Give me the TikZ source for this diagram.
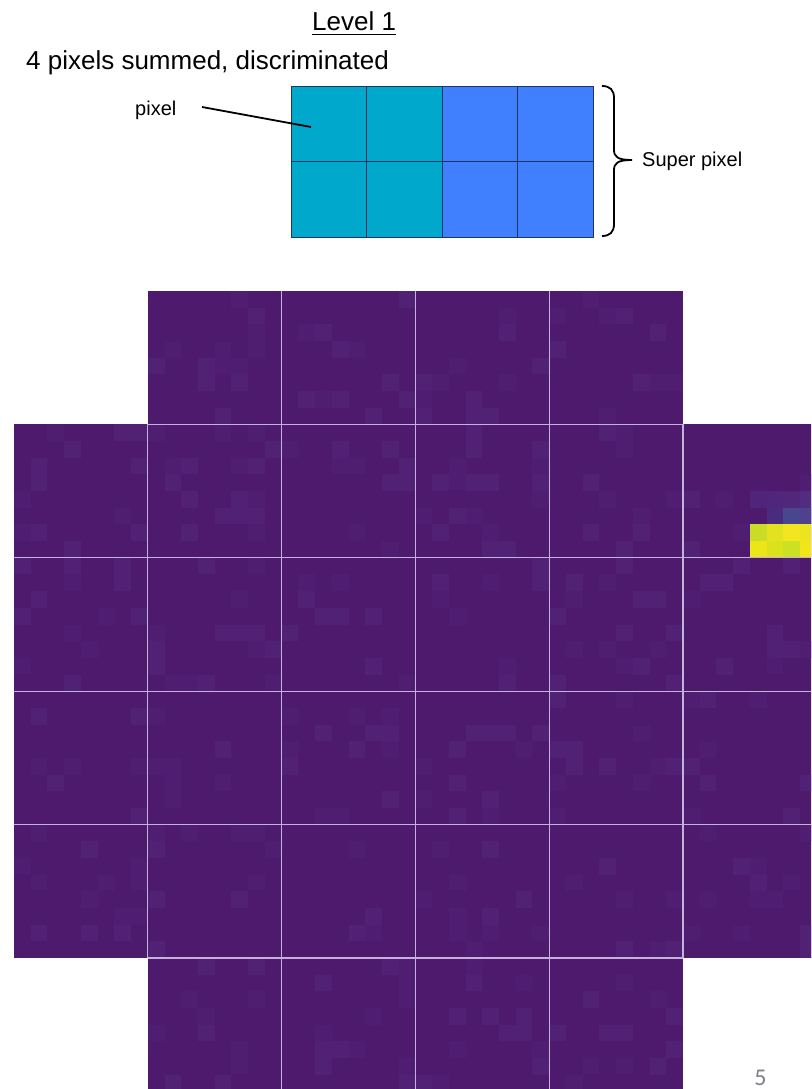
\documentclass[tikz,border=0pt]{standalone}
\usepackage{fontspec}
\setmainfont{Liberation Sans}
\newfontfamily\carlitofont{Carlito}
\definecolor{vbase}{RGB}{77,26,110}
\definecolor{vlight}{RGB}{81,33,118}
\definecolor{vlight2}{RGB}{79,29,114}
\definecolor{gridc}{RGB}{195,178,218}
\definecolor{pixteal}{RGB}{0,168,204}
\definecolor{pixblue}{RGB}{64,128,255}
\definecolor{pixedge}{RGB}{30,52,100}
\definecolor{pagenum}{RGB}{128,128,136}
\tikzset{
  lbl/.style={inner sep=0pt, font=\fontsize{20}{24}\selectfont},
  bigtxt/.style={inner sep=0pt, font=\fontsize{26}{31}\selectfont},
  cellbox/.style={draw=pixedge, line width=0.9pt},
  tilegrid/.style={draw=gridc, line width=1.1pt},
}
\begin{document}
\begin{tikzpicture}[x=1pt,y=-1pt]
\useasboundingbox (0,0) rectangle (811,1089);
\fill[white] (0,0) rectangle (811,1089);
\begin{scope}
\clip (0,0) rectangle (811,1089);
\pgfmathsetseed{11}
\foreach \tx/\ty in {1/0,2/0,3/0,4/0,
  0/1,1/1,2/1,3/1,4/1,5/1,
  0/2,1/2,2/2,3/2,4/2,5/2,
  0/3,1/3,2/3,3/3,4/3,5/3,
  0/4,1/4,2/4,3/4,4/4,5/4,
  1/5,2/5,3/5,4/5}{
  \pgfmathsetmacro\ox{14+133.8*\tx}
  \pgfmathsetmacro\oy{291+133.4*\ty}
  \fill[vbase] (\ox,\oy) rectangle ++(133.8,133.4);
  \foreach \i in {0,...,7}{
    \foreach \j in {0,...,7}{
      \pgfmathsetmacro\rr{rnd}
      \ifdim\rr pt<0.09pt
        \fill[vlight] (\ox+\i*16.725,\oy+\j*16.675) rectangle ++(16.725,16.675);
      \else\ifdim\rr pt<0.18pt
        \fill[vlight2] (\ox+\i*16.725,\oy+\j*16.675) rectangle ++(16.725,16.675);
      \fi\fi
    }
  }
}
% bright pixels in tile (5,1)
\foreach \i/\j/\cr/\cg/\cb in {
  4/4/80/36/122, 5/4/80/38/124, 6/4/79/40/124, 7/4/82/44/128,
  5/5/74/44/126, 6/5/72/70/142, 7/5/78/66/142,
  4/6/200/220/40, 5/6/226/226/30, 6/6/242/230/30, 7/6/236/228/30,
  4/7/236/230/25, 5/7/220/225/30, 6/7/205/225/35, 7/7/242/230/25}{
  \definecolor{hot}{RGB}{\cr,\cg,\cb}
  \fill[hot] (683+\i*16.725,424.4+\j*16.675) rectangle ++(16.725,16.675);
}
% internal tile boundaries
\draw[tilegrid] (147.8,424.4) -- (683,424.4);
\foreach \yy in {557.8,691.2,824.6}{ \draw[tilegrid] (14,\yy) -- (811,\yy); }
\draw[tilegrid] (147.8,958) -- (683,958);
\draw[tilegrid] (147.8,424.4) -- (147.8,958);
\foreach \xx in {281.6,415.4,549.2}{ \draw[tilegrid] (\xx,291) -- (\xx,1089); }
\draw[tilegrid] (683,424.4) -- (683,958);
\end{scope}
\node[anchor=base, inner sep=0pt, text=pagenum, font=\carlitofont\fontsize{24}{29}\selectfont] (pnum) at (760.5,1085) {5};
% top explanatory part
\node[bigtxt, anchor=base west] (lvl) at (312,31) {Level 1};
\draw[line width=1.8pt] ([yshift=-3.6pt]lvl.base west) -- ([yshift=-3.6pt]lvl.base east);
\node[bigtxt, anchor=base west] (title) at (26,70) {4 pixels summed, discriminated};
\foreach \c in {0,1,2,3}{
  \foreach \r in {0,1}{
    \ifnum\c<2
      \filldraw[cellbox, fill=pixteal] (291+\c*75.5,86+\r*75.5) rectangle ++(75.5,75.5);
    \else
      \filldraw[cellbox, fill=pixblue] (291+\c*75.5,86+\r*75.5) rectangle ++(75.5,75.5);
    \fi
  }
}
\node[lbl, anchor=base west] (pixlbl) at (135,115.5) {pixel};
\coordinate (pixstart) at (202,107);
\coordinate (pixend) at (311,127);
\draw[line width=1.8pt] (pixstart) -- (pixend);
\draw[line width=1.8pt] (602,86) .. controls (610,86) and (614,90) .. (614,98) -- (614,150)
  .. controls (614,157) and (618,160) .. (632,160)
  .. controls (618,160) and (614,163) .. (614,170) -- (614,224)
  .. controls (614,232) and (610,236) .. (602,236);
\node[lbl, anchor=base west] (super) at (642,166) {Super pixel};
\end{tikzpicture}
\end{document}
